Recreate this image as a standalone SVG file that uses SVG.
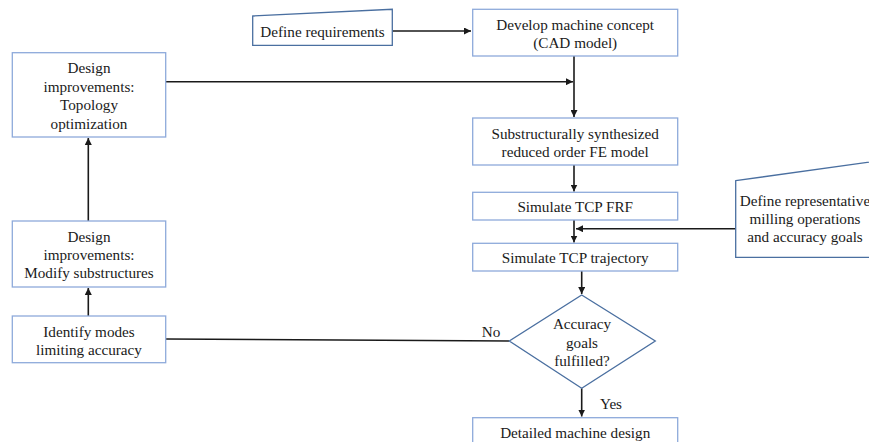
<svg xmlns="http://www.w3.org/2000/svg" width="869" height="442" viewBox="0 0 869 442" font-family="Liberation Serif, serif">
<defs>
<style>
.box{fill:#fff;stroke:#8eaadb;stroke-width:1.3}
.dark{fill:#fff;stroke:#4a6fa0;stroke-width:1.3}
text{font-family:"Liberation Serif",serif;font-size:15.2px;fill:#1a1a1a;text-anchor:middle}
.ln{fill:none;stroke:#1a1a1a;stroke-width:1.6}
</style>
<marker id="ah" viewBox="0 0 10 10" refX="10" refY="5" markerWidth="7" markerHeight="7" markerUnits="userSpaceOnUse" orient="auto">
<path d="M0,0 L10,5 L0,10 z" fill="#1a1a1a"/>
</marker>
</defs>
<rect width="869" height="442" fill="#fff"/>
<g id="connectors">
<path class="ln" d="M392.3,31 H471" marker-end="url(#ah)"/>
<path class="ln" d="M574,56 V117" marker-end="url(#ah)"/>
<path class="ln" d="M165.7,81.7 H573" marker-end="url(#ah)"/>
<path class="ln" d="M574,165 V191.5" marker-end="url(#ah)"/>
<path class="ln" d="M574,220 V242.5" marker-end="url(#ah)"/>
<path class="ln" d="M735.7,228.7 H576" marker-end="url(#ah)"/>
<path class="ln" d="M581.7,271 V294" marker-end="url(#ah)"/>
<path class="ln" d="M581.7,388.3 V416.5" marker-end="url(#ah)"/>
<path class="ln" d="M509.3,341 L165.7,339"/>
<path class="ln" d="M88.3,316 V288" marker-end="url(#ah)"/>
<path class="ln" d="M88.3,221 V138" marker-end="url(#ah)"/>
<text x="491" y="337">No</text>
<text x="611" y="409">Yes</text>
</g>
<g id="define-requirements">
<path class="dark" d="M252.7,16 L392.3,9.3 V45.3 H252.7 Z"/>
<text x="322.5" y="37">Define requirements</text>
</g>
<g id="develop-concept">
<rect class="box" x="472.7" y="9.3" width="205" height="46.7"/>
<text x="575.2" y="30">Develop machine concept</text>
<text x="575.2" y="48">(CAD model)</text>
</g>
<g id="topology">
<rect class="box" x="12.3" y="52.7" width="153.4" height="84.3"/>
<text x="89" y="73">Design</text>
<text x="89" y="91.5">improvements:</text>
<text x="89" y="110">Topology</text>
<text x="89" y="128.5">optimization</text>
</g>
<g id="fe-model">
<rect class="box" x="472.7" y="118" width="205" height="47"/>
<text x="575.2" y="138.5">Substructurally synthesized</text>
<text x="575.2" y="157">reduced order FE model</text>
</g>
<g id="sim-frf">
<rect class="box" x="472.7" y="192.3" width="205" height="27.7"/>
<text x="575.2" y="212">Simulate TCP FRF</text>
</g>
<g id="define-milling">
<path class="dark" d="M735.7,180.7 L880,160.5 V257.3 H735.7 Z"/>
<text x="805" y="206">Define representative</text>
<text x="805" y="224">milling operations</text>
<text x="805" y="242">and accuracy goals</text>
</g>
<g id="sim-trajectory">
<rect class="box" x="472.7" y="243.3" width="205" height="27.7"/>
<text x="575.2" y="262.5">Simulate TCP trajectory</text>
</g>
<g id="decision">
<path class="dark" d="M581.7,295 L655.3,341 L581.7,388.3 L509.3,341 Z"/>
<text x="582" y="329">Accuracy</text>
<text x="582" y="347.5">goals</text>
<text x="582" y="366">fulfilled?</text>
</g>
<g id="modify">
<rect class="box" x="12.3" y="221" width="153.4" height="66"/>
<text x="89" y="241.5">Design</text>
<text x="89" y="260">improvements:</text>
<text x="89" y="278">Modify substructures</text>
</g>
<g id="identify">
<rect class="box" x="12.3" y="316" width="153.4" height="46.7"/>
<text x="89" y="336.5">Identify modes</text>
<text x="89" y="355">limiting accuracy</text>
</g>
<g id="detailed">
<rect class="box" x="472.7" y="417.7" width="205" height="30"/>
<text x="575.2" y="438">Detailed machine design</text>
</g>
</svg>
